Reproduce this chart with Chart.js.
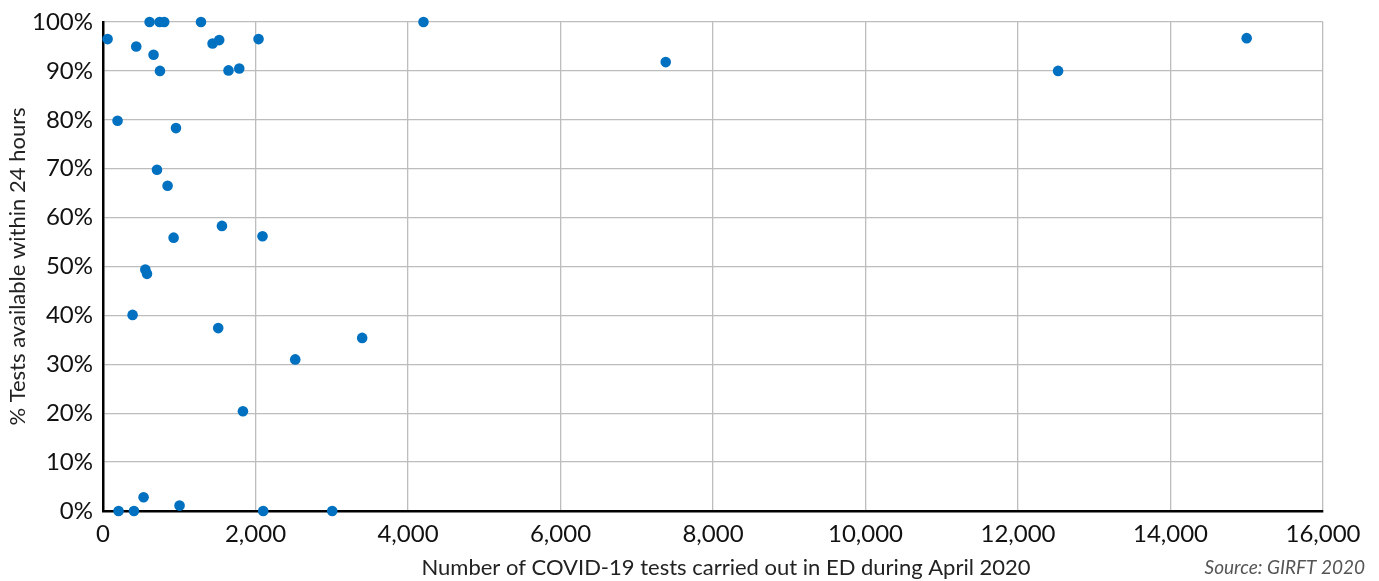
<!DOCTYPE html>
<html>
<head>
<meta charset="utf-8">
<script src="https://cdn.jsdelivr.net/npm/chart.js@4/dist/chart.umd.min.js"></script>
<style>
  html, body { margin: 0; padding: 0; background: #fff; }
  #wrap { position: relative; width: 1379px; height: 581px; }
</style>
</head>
<body>
<div id="wrap"><canvas id="scatterChart" width="1379" height="581"></canvas></div>
<script>
// Tests carried out in ED (April 2020) vs % available within 24 hours
const testsCarriedOut = [60, 611, 742, 803, 1285, 4203, 436, 663, 747, 1437, 1524, 2040, 1646, 1787,
    191, 957, 708, 847, 1560, 926, 2092, 555, 577, 388, 1511, 3399, 2521, 1835,
    532, 1004, 204, 406, 2101, 3006, 7380, 12526, 14999];
const pctWithin24h = [96.5, 100, 100, 100, 100, 100, 95.0, 93.3, 90.0, 95.6, 96.3, 96.5, 90.1, 90.5,
    79.8, 78.3, 69.8, 66.5, 58.3, 55.9, 56.2, 49.4, 48.5, 40.1, 37.4, 35.4, 31.0, 20.4,
    2.8, 1.1, 0, 0, 0, 0, 91.8, 90.0, 96.7];

const xTicks = [0, 2000, 4000, 6000, 8000, 10000, 12000, 14000, 16000];
const yTicks = [0, 10, 20, 30, 40, 50, 60, 70, 80, 90, 100];

const xTitle = "Number of COVID-19 tests carried out in ED during April 2020";
const yTitle = "% Tests available within 24 hours";
const sourceNote = "Source: GIRFT 2020";

const FONT = "Lato, 'Open Sans', sans-serif";

// axis titles + source line
const labelsPlugin = {
    id: 'labels',
    afterDraw(chart) {
        const c = chart.ctx;
        const area = chart.chartArea;
        c.save();
        c.fillStyle = '#222';
        c.font = `22px ${FONT}`;
        c.textAlign = 'center';
        c.textBaseline = 'middle';
        c.fillText(xTitle, 726, 568);

        c.translate(18, (area.top + area.bottom) / 2);
        c.rotate(-Math.PI / 2);
        c.fillText(yTitle, 0, 0);
        c.restore();

        c.save();
        c.fillStyle = '#555';
        c.font = `italic 19px ${FONT}`;
        c.textAlign = 'right';
        c.textBaseline = 'middle';
        c.fillText(sourceNote, 1365, 568);
        c.restore();
    }
};

const ctx = document.getElementById('scatterChart').getContext('2d');

new Chart(ctx, {
    type: 'scatter',
    data: {
        datasets: [{
            data: testsCarriedOut.map((x, i) => ({ x: x, y: pctWithin24h[i] })),
            backgroundColor: '#0070c0',
            borderColor: '#0070c0',
            pointRadius: 5.3,
            pointHoverRadius: 5.3,
            borderWidth: 0,
            clip: false
        }]
    },
    options: {
        responsive: false,
        animation: false,
        events: [],
        layout: { padding: { left: 0, top: 22, right: 56, bottom: 0 } },
        plugins: {
            legend: { display: false },
            tooltip: { enabled: false }
        },
        scales: {
            x: {
                type: 'linear',
                min: 0,
                max: 16000,
                afterBuildTicks: scale => { scale.ticks = xTicks.map(v => ({ value: v })); },
                afterFit: scale => {
                    scale.height = 70;
                    scale.paddingLeft = 0;
                    scale.paddingRight = 0;
                },
                grid: { color: '#bdbdbd', lineWidth: 1.3, drawTicks: false },
                border: { color: '#000', width: 2.5 },
                ticks: {
                    color: '#111',
                    padding: 9,
                    maxRotation: 0,
                    font: { family: FONT, size: 24 },
                    callback: v => v.toLocaleString('en-GB')
                }
            },
            y: {
                type: 'linear',
                min: 0,
                max: 100,
                afterBuildTicks: scale => { scale.ticks = yTicks.map(v => ({ value: v })); },
                afterFit: scale => {
                    scale.width = 103;
                    scale.paddingTop = 0;
                    scale.paddingBottom = 0;
                },
                grid: { color: '#bdbdbd', lineWidth: 1.3, drawTicks: false },
                border: { color: '#000', width: 2.5 },
                ticks: {
                    color: '#111',
                    padding: 10,
                    font: { family: FONT, size: 24 },
                    callback: v => v + '%'
                }
            }
        }
    },
    plugins: [labelsPlugin]
});
</script>
</body>
</html>
